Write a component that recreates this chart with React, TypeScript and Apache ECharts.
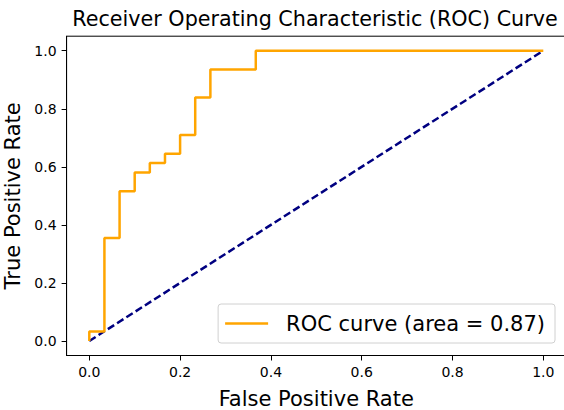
import React, { useEffect, useRef } from "react";
import * as echarts from "echarts";

const fpr = [0, 0, 0.0333, 0.0333, 0.0667, 0.0667, 0.1, 0.1, 0.1333, 0.1333, 0.1667, 0.1667, 0.2, 0.2, 0.2333, 0.2333, 0.2667, 0.2667, 0.3667, 0.3667, 1.0];
const tpr = [0, 0.0323, 0.0323, 0.3548, 0.3548, 0.5161, 0.5161, 0.5806, 0.5806, 0.6129, 0.6129, 0.6452, 0.6452, 0.7097, 0.7097, 0.8387, 0.8387, 0.9355, 0.9355, 1.0, 1.0];
const chanceX = [0, 1];
const chanceY = [0, 1];
const tickValues = [0, 0.2, 0.4, 0.6, 0.8, 1.0];
const rocName = "ROC curve (area = 0.87)";
const titleText = "Receiver Operating Characteristic (ROC) Curve";

const FONT = "DejaVu Sans";

export default function App() {
  const ref = useRef<HTMLDivElement>(null);
  useEffect(() => {
    document.body.style.margin = "0";
    const chart = echarts.init(ref.current!, null, { renderer: "svg" });
    const axisCommon = {
      type: "value" as const,
      min: -0.05,
      max: 1.05,
      splitLine: { show: false },
      axisLine: { show: true, onZero: false, lineStyle: { color: "#000", width: 1 } },
      axisTick: { show: true, customValues: tickValues, length: 5, lineStyle: { color: "#000", width: 1 } },
      axisLabel: {
        customValues: tickValues,
        formatter: (v: number) => v.toFixed(1),
        color: "#000",
        fontFamily: FONT,
        fontSize: 14,
      },
      nameLocation: "middle" as const,
      nameTextStyle: { color: "#000", fontFamily: FONT, fontSize: 21 },
    };
    chart.setOption({
      animation: false,
      backgroundColor: "#fff",
      title: {
        text: titleText,
        left: 310,
        top: 3,
        textAlign: "center",
        textStyle: { color: "#000", fontFamily: FONT, fontSize: 20.7, fontWeight: "normal" },
      },
      grid: {
        left: 66.6,
        top: 36.2,
        width: 499.4,
        height: 319.3,
        outerBoundsMode: "none",
        containLabel: false,
        show: true,
        borderColor: "#000",
        borderWidth: 1,
        backgroundColor: "transparent",
      },
      xAxis: {
        ...axisCommon,
        name: "False Positive Rate",
        nameGap: 33,
        axisLabel: { ...axisCommon.axisLabel, margin: 9 },
      },
      yAxis: {
        ...axisCommon,
        name: "True Positive Rate",
        nameGap: 35,
        axisLabel: { ...axisCommon.axisLabel, margin: 10 },
      },
      legend: {
        data: [rocName],
        icon: "rect",
        right: 9,
        top: 304,
        orient: "vertical",
        backgroundColor: "#fff",
        borderColor: "#d0d0d0",
        borderWidth: 1,
        borderRadius: 3,
        padding: [7, 10, 7, 7],
        itemWidth: 43,
        itemHeight: 2.5,
        itemGap: 0,
        textStyle: { color: "#000", fontFamily: FONT, fontSize: 21, padding: [0, 0, 0, 13], lineHeight: 25 },
      },
      series: [
        {
          name: rocName,
          type: "line",
          data: fpr.map((x, i) => [x, tpr[i]]),
          symbol: "none",
          lineStyle: { color: "#ffa500", width: 2.5 },
          itemStyle: { color: "#ffa500" },
          z: 3,
        },
        {
          name: "chance",
          type: "line",
          data: chanceX.map((x, i) => [x, chanceY[i]]),
          symbol: "none",
          lineStyle: { color: "#000080", width: 2.5, type: [7.5, 3.5] },
          itemStyle: { color: "#000080" },
          z: 2,
        },
      ],
    });
    return () => chart.dispose();
  }, []);
  return <div ref={ref} style={{ width: 564, height: 410 }} />;
}
